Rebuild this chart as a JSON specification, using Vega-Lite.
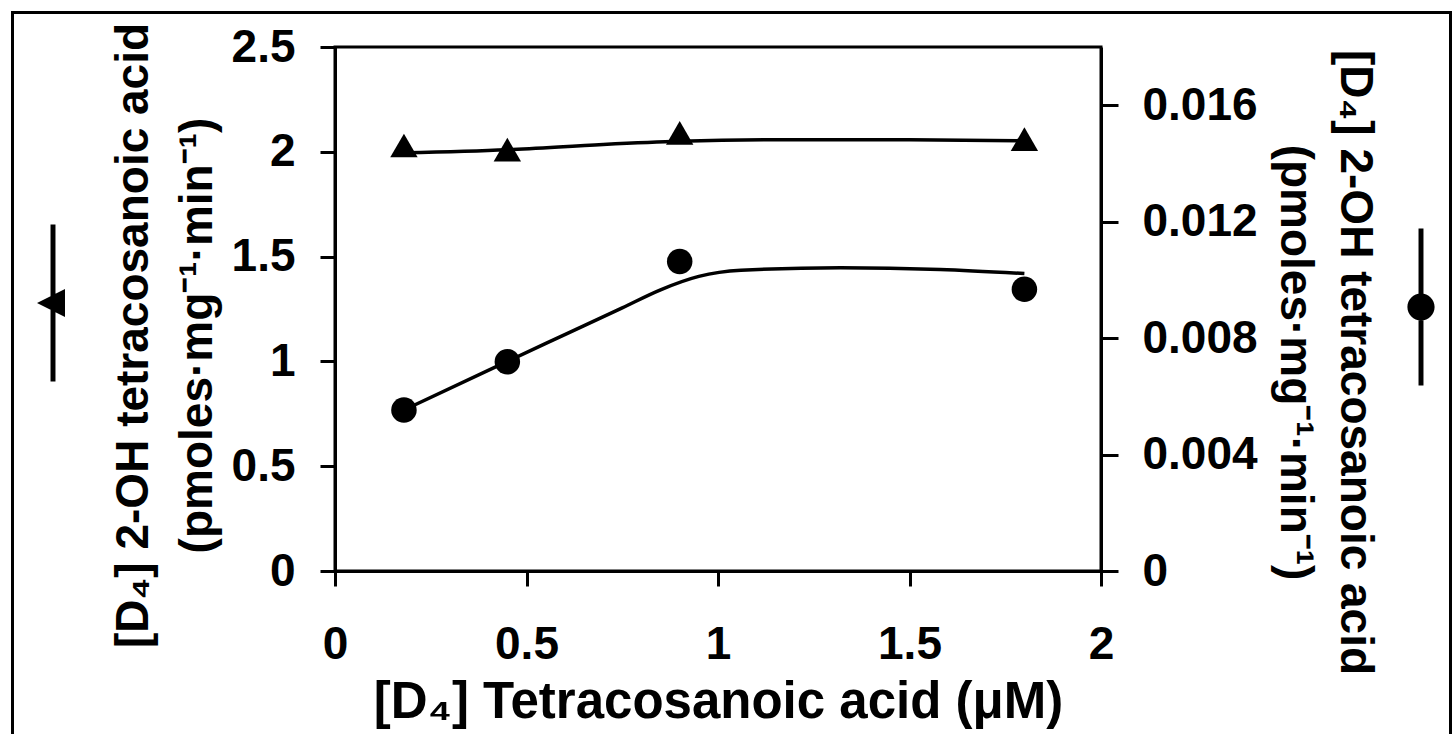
{
  "$schema": "https://vega.github.io/schema/vega-lite/v6.json",
  "width": 766,
  "height": 524,
  "autosize": {"type": "none"},
  "padding": {"left": 335, "top": 47, "right": 352, "bottom": 163},
  "background": "white",
  "config": {
    "font": "Liberation Sans",
    "view": {"stroke": "black", "strokeWidth": 3},
    "axis": {
      "labelFont": "Liberation Sans",
      "labelFontSize": 46,
      "labelFontWeight": "bold",
      "labelColor": "black",
      "titleFont": "Liberation Sans",
      "titleFontSize": 46,
      "titleFontWeight": "bold",
      "titleColor": "black",
      "domainColor": "black",
      "domainWidth": 3,
      "tickColor": "black",
      "tickWidth": 3,
      "tickSize": 15,
      "grid": false,
      "labelFlush": false,
      "labelOverlap": false
    }
  },
  "datasets": {
    "triangles": [
      {"conc": 0.18, "rate": 2.03, "series": "triangle"},
      {"conc": 0.45, "rate": 2.01, "series": "triangle"},
      {"conc": 0.9, "rate": 2.09, "series": "triangle"},
      {"conc": 1.8, "rate": 2.06, "series": "triangle"}
    ],
    "triFit": [
      {"conc": 0.18, "rate": 1.995},
      {"conc": 0.45, "rate": 2.01},
      {"conc": 0.7, "rate": 2.035},
      {"conc": 0.9, "rate": 2.05},
      {"conc": 1.2, "rate": 2.058},
      {"conc": 1.5, "rate": 2.058},
      {"conc": 1.8, "rate": 2.053}
    ],
    "circles": [
      {"conc": 0.18, "rate": 0.00553, "series": "circle"},
      {"conc": 0.45, "rate": 0.00719, "series": "circle"},
      {"conc": 0.9, "rate": 0.01063, "series": "circle"},
      {"conc": 1.8, "rate": 0.00968, "series": "circle"}
    ],
    "circFit": [
      {"conc": 0.18, "rate": 0.00553},
      {"conc": 0.45, "rate": 0.0072},
      {"conc": 0.6, "rate": 0.00812},
      {"conc": 0.75, "rate": 0.00904},
      {"conc": 0.85, "rate": 0.00966},
      {"conc": 0.95, "rate": 0.01012},
      {"conc": 1.06, "rate": 0.01033},
      {"conc": 1.32, "rate": 0.01042},
      {"conc": 1.58, "rate": 0.01036},
      {"conc": 1.8, "rate": 0.01022}
    ]
  },
  "encoding": {
    "x": {
      "field": "conc",
      "type": "quantitative",
      "scale": {"domain": [0, 2], "nice": false, "zero": true},
      "axis": {
        "values": [0, 0.5, 1, 1.5, 2],
        "format": "~g",
        "labelPadding": 36,
        "title": "[D₄] Tetracosanoic acid (μM)",
        "titleFontSize": 51,
        "titlePadding": 10
      }
    }
  },
  "layer": [
    {
      "encoding": {
        "y": {
          "field": "rate",
          "type": "quantitative",
          "scale": {"domain": [0, 2.5], "nice": false, "zero": true},
          "axis": {
            "orient": "left",
            "values": [0, 0.5, 1, 1.5, 2, 2.5],
            "format": "~g",
            "labelPadding": 25,
            "title": ["[D₄] 2-OH tetracosanoic acid", "(pmoles·mg⁻¹·min⁻¹)"],
            "titleLineHeight": 64,
            "titlePadding": 10,
            "titleY": 288
          }
        }
      },
      "layer": [
        {
          "data": {"name": "triFit"},
          "mark": {"type": "line", "interpolate": "monotone", "color": "black", "strokeWidth": 3.5}
        },
        {
          "data": {"name": "triangles"},
          "mark": {"type": "point", "shape": "triangle-up", "filled": true, "size": 750, "opacity": 1, "strokeWidth": 0},
          "encoding": {
            "color": {
              "field": "series",
              "type": "nominal",
              "scale": {"domain": ["triangle"], "range": ["black"]},
              "legend": {
                "orient": "none",
                "legendX": -362,
                "legendY": 176,
                "title": null,
                "padding": 0,
                "symbolType": "M-0.031,-0.98L0.031,-0.98L0.031,0.98L-0.031,0.98Z M-0.2,0L0.15,-0.175L0.15,0.175Z M-0.525,-3.65L17.4875,-3.65L17.4875,5.7125L-0.525,5.7125Z M-0.4875,-3.6125L-0.4875,5.675L17.45,5.675L17.45,-3.6125Z",
                "symbolSize": 25600,
                "symbolStrokeWidth": 0,
                "symbolFillColor": "black",
                "labelExpression": "''",
                "labelFontSize": 1,
                "labelOffset": -90
              }
            }
          }
        }
      ]
    },
    {
      "encoding": {
        "y": {
          "field": "rate",
          "type": "quantitative",
          "scale": {"domain": [0, 0.018], "nice": false, "zero": true},
          "axis": {
            "orient": "right",
            "values": [0, 0.004, 0.008, 0.012, 0.016],
            "format": "~g",
            "tickSize": 17,
            "labelPadding": 24,
            "title": ["[D₄] 2-OH tetracosanoic acid", "(pmoles·mg⁻¹·min⁻¹)"],
            "titleLineHeight": 60,
            "titlePadding": 13,
            "titleY": 315
          }
        }
      },
      "layer": [
        {
          "data": {"name": "circFit"},
          "mark": {"type": "line", "interpolate": "monotone", "color": "black", "strokeWidth": 3.5}
        },
        {
          "data": {"name": "circles"},
          "mark": {"type": "point", "shape": "circle", "filled": true, "size": 650, "opacity": 1, "strokeWidth": 0},
          "encoding": {
            "fill": {
              "field": "series",
              "type": "nominal",
              "scale": {"domain": ["circle"], "range": ["black"]},
              "legend": {
                "orient": "none",
                "legendX": 1006,
                "legendY": 180,
                "title": null,
                "padding": 0,
                "symbolType": "M-0.031,-0.98L0.031,-0.98L0.031,0.98L-0.031,0.98Z M0.17,0A0.17,0.17 0 1,1 -0.17,0A0.17,0.17 0 1,1 0.17,0Z",
                "symbolSize": 25600,
                "symbolStrokeWidth": 0,
                "symbolFillColor": "black",
                "labelExpression": "''",
                "labelFontSize": 1,
                "labelOffset": -90
              }
            }
          }
        }
      ]
    }
  ],
  "resolve": {"scale": {"y": "independent"}}
}
